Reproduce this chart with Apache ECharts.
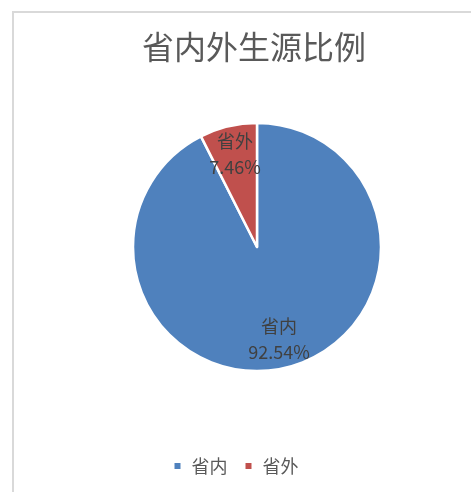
<!DOCTYPE html>
<html>
<head>
<meta charset="utf-8">
<script src="https://cdn.jsdelivr.net/npm/echarts@6/dist/echarts.min.js"></script>
<style>
  html, body { margin: 0; padding: 0; background: #fff; overflow: hidden; }
  #frame { position: absolute; left: 12px; top: 11px; width: 520px; height: 520px; border: 2px solid #d9d9d9; box-sizing: border-box; }
  #chart { position: absolute; left: 0; top: 0; width: 471px; height: 492px; }
</style>
</head>
<body>
<div id="frame"></div>
<div id="chart"></div>
<script>
// 省内外生源比例
var names = ['省内', '省外'];
var shares = [92.54, 7.46];
var colors = ['#4f81bd', '#c0504d'];

var pieData = names.map(function (n, i) {
  return { name: n, value: shares[i], itemStyle: { color: colors[i] } };
});

var chart = echarts.init(document.getElementById('chart'));
chart.setOption({
  animation: false,
  title: {
    text: '省内外生源比例',
    left: 249,
    top: 26,
    textAlign: 'center',
    textStyle: { fontFamily: 'Noto Sans CJK SC', fontSize: 32, fontWeight: 'normal', color: '#595959' }
  },
  legend: {
    data: names,
    bottom: 12,
    left: 'center',
    icon: 'rect',
    itemWidth: 8,
    itemHeight: 8,
    itemGap: 16,
    textStyle: { fontFamily: 'Noto Sans CJK SC', fontSize: 18, color: '#595959', padding: [0, 0, 0, 5] }
  },
  series: [
    {
      type: 'pie',
      center: [257, 247],
      radius: [0, 124],
      startAngle: 90,
      clockwise: true,
      silent: true,
      label: { show: false },
      labelLine: { show: false },
      itemStyle: { borderColor: '#fff', borderWidth: 2.5 },
      data: pieData
    },
    {
      // transparent ring, only used to place the labels further out
      type: 'pie',
      center: [257, 247],
      radius: [60, 124],
      startAngle: 90,
      clockwise: true,
      silent: true,
      itemStyle: { color: 'rgba(0,0,0,0)' },
      label: {
        show: true,
        position: 'inside',
        formatter: function (p) { return p.name + '\n' + p.value.toFixed(2) + '%'; },
        fontFamily: 'Noto Sans CJK SC',
        fontSize: 18,
        lineHeight: 26,
        color: '#404040'
      },
      labelLine: { show: false },
      data: names.map(function (n, i) { return { name: n, value: shares[i] }; })
    }
  ]
});
</script>
</body>
</html>
